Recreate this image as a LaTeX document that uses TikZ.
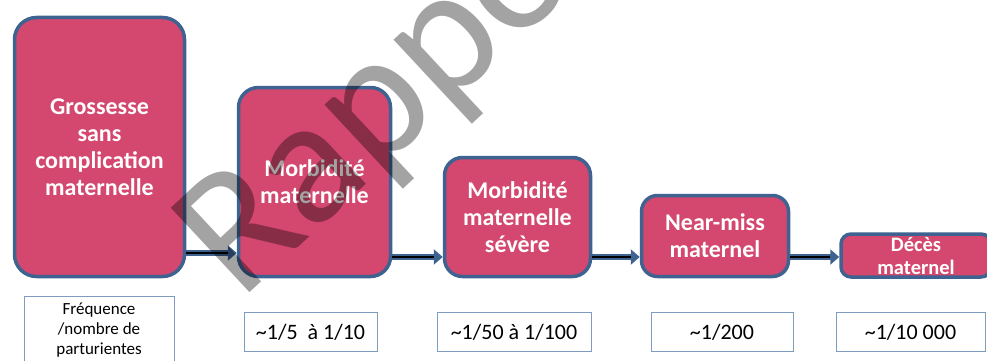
\documentclass[tikz,border=0pt]{standalone}
\usepackage{fontspec}
\setmainfont{Carlito}
\usetikzlibrary{arrows.meta,calc}
\definecolor{pinkbox}{RGB}{212,71,111}
\definecolor{bluebord}{RGB}{62,99,144}
\definecolor{thinbord}{RGB}{127,155,192}
\begin{document}
\begin{tikzpicture}[x=1pt,y=-1pt,
  stage/.style={draw=bluebord, line width=3.5pt, fill=pinkbox, text=white,
    font=\fontsize{24}{27}\selectfont\bfseries, align=center, inner sep=0pt},
  freq/.style={draw=thinbord, line width=1pt, fill=white, text=black,
    font=\fontsize{22}{24}\selectfont, align=center, inner sep=0pt},
  flowline/.style={draw=bluebord, line width=6pt, -{Triangle[length=9pt,width=15pt]}},
  flowcore/.style={draw=black, line width=2.5pt}]
\useasboundingbox (0,0) rectangle (987,361);
% stages
\node[stage, rounded corners=22pt, minimum width=170pt, minimum height=259pt] (b1) at (99.5,147) {Grossesse\\sans\\complication\\maternelle};
\node[stage, rounded corners=20pt, minimum width=152pt, minimum height=189pt] (b2) at (314.5,182) {Morbidité\\maternelle};
\node[stage, rounded corners=18pt, minimum width=146pt, minimum height=119pt] (b3) at (517.5,217) {Morbidité\\maternelle\\sévère};
\node[stage, rounded corners=16pt, minimum width=147pt, minimum height=81pt] (b4) at (715,236) {Near-miss\\maternel};
\node[stage, rounded corners=10pt, minimum width=150pt, minimum height=43pt,
  font=\fontsize{20.5}{23}\selectfont\bfseries] (b5) at (916,255.5) {Décès\\maternel};
% arrows
\coordinate (y1) at (0,253);
\coordinate (y2) at (0,257);
\draw[flowline] (b1.east |- y1) -- (b2.west |- y1);
\draw[flowcore] (b1.east |- y1) -- ($(b2.west |- y1)+(-9,0)$);
\draw[flowline] (b2.east |- y2) -- (b3.west |- y2);
\draw[flowcore] (b2.east |- y2) -- ($(b3.west |- y2)+(-9,0)$);
\draw[flowline] (b3.east |- y2) -- (b4.west |- y2);
\draw[flowcore] (b3.east |- y2) -- ($(b4.west |- y2)+(-9,0)$);
\draw[flowline] (b4.east |- y2) -- (b5.west |- y2);
\draw[flowcore] (b4.east |- y2) -- ($(b5.west |- y2)+(-9,0)$);
% frequencies
\node[freq, minimum width=150pt, minimum height=75pt, anchor=north] (f0) at (99,295.5) {};
\node[font=\fontsize{17}{20}\selectfont, align=center, anchor=north, inner sep=0pt] (f0t) at (99,303) {Fréquence\\/nombre de\\parturientes};
\node[freq, minimum width=133pt, minimum height=39pt] (f1) at (310.5,332) {\textasciitilde1/5\ \ à 1/10};
\node[freq, minimum width=154pt, minimum height=39pt] (f2) at (514,332) {\textasciitilde1/50 à 1/100};
\node[freq, minimum width=142pt, minimum height=39pt] (f3) at (722,332) {\textasciitilde1/200};
\node[freq, minimum width=149pt, minimum height=39pt] (f4) at (910.5,332) {\textasciitilde1/10 000};
% watermark
\node[rotate=43, anchor=base west, inner sep=0pt, text=black, opacity=0.36,
  font=\fontsize{180}{180}\selectfont] (wm) at (240,302) {Rapport};
\end{tikzpicture}
\end{document}
